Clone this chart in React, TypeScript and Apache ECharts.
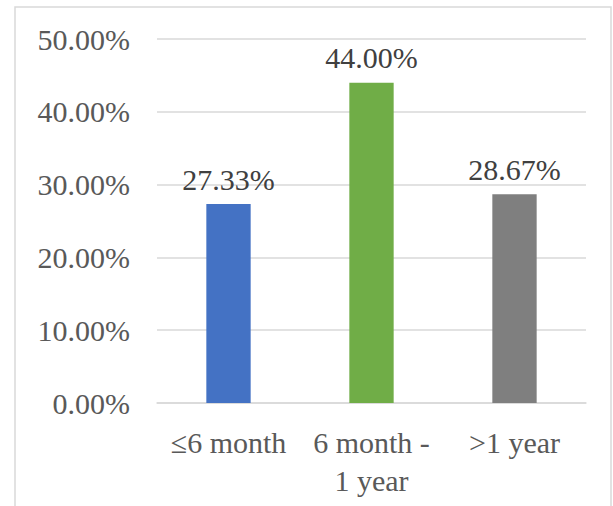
import React, { useEffect, useRef } from "react";
import * as echarts from "echarts";

const categories = ["≤6 month", "6 month -\n1 year", ">1 year"];
const values = [27.33, 44.0, 28.67];
const barColors = ["#4472C4", "#70AD47", "#7F7F7F"];
const yTicks = [0, 10, 20, 30, 40, 50];

export default function App() {
  const ref = useRef<HTMLDivElement>(null);
  useEffect(() => {
    if (!ref.current) return;
    const chart = echarts.init(ref.current, undefined, { renderer: "svg" });
    const font = "Times New Roman";
    chart.setOption({
      animation: false,
      backgroundColor: "#ffffff",
      textStyle: { fontFamily: font },
      graphic: [
        {
          type: "rect",
          shape: { x: 15, y: 7, width: 596, height: 520 },
          style: { fill: "none", stroke: "#D9D9D9", lineWidth: 1.5 },
          silent: true,
        },
      ],
      grid: { left: 157, right: 27, top: 39, bottom: 103, containLabel: false },
      xAxis: {
        type: "category",
        data: categories,
        axisLine: { show: true, lineStyle: { color: "#D9D9D9", width: 1.5 } },
        axisTick: { show: false },
        axisLabel: {
          color: "#595959",
          fontFamily: font,
          fontSize: 30,
          lineHeight: 38,
          margin: 20,
          interval: 0,
        },
      },
      yAxis: {
        type: "value",
        min: yTicks[0],
        max: yTicks[yTicks.length - 1],
        interval: 10,
        axisLine: { show: false },
        axisTick: { show: false },
        splitLine: { lineStyle: { color: "#D9D9D9", width: 1.5 } },
        axisLabel: {
          color: "#595959",
          fontFamily: font,
          fontSize: 30,
          margin: 27,
          formatter: (v: number) => v.toFixed(2) + "%",
        },
      },
      series: [
        {
          type: "bar",
          barWidth: "31%",
          data: values.map((v, i) => ({ value: v, itemStyle: { color: barColors[i] } })),
          label: {
            show: true,
            position: "top",
            distance: 10,
            color: "#404040",
            fontFamily: font,
            fontSize: 30,
            formatter: (p: any) => Number(p.value).toFixed(2) + "%",
          },
        },
      ],
    });
    return () => chart.dispose();
  }, []);
  return (
    <div
      ref={ref}
      style={{ position: "fixed", left: 0, top: 0, width: 613, height: 506 }}
    />
  );
}
